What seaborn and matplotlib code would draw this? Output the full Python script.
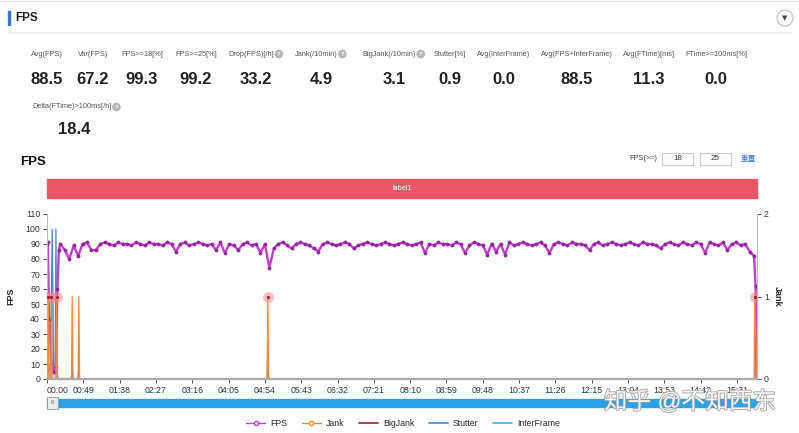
import numpy as np
import matplotlib
import matplotlib.pyplot as plt
import seaborn as sns
from matplotlib.lines import Line2D
from matplotlib.patches import Rectangle, Circle
import matplotlib.patheffects as pe

sns.set_theme(style="white")
plt.rcParams["font.family"] = ["Liberation Sans", "Noto Sans CJK SC", "DejaVu Sans"]
plt.rcParams["axes.unicode_minus"] = False

# summary numbers
stat_labels = ["Avg(FPS)", "Var(FPS)", "FPS>=18[%]", "FPS>=25[%]", "Drop(FPS)[/h]",
               "Jank(/10min)", "BigJank(/10min)", "Stutter[%]", "Avg(InterFrame)",
               "Avg(FPS+InterFrame)", "Avg(FTime)[ms]", "FTime>=100ms[%]"]
stat_values = ["88.5", "67.2", "99.3", "99.2", "33.2", "4.9", "3.1", "0.9", "0.0",
               "88.5", "11.3", "0.0"]
stat_help = [False, False, False, False, True, True, True, False, False, False, False, False]
extra_label = "Delta(FTime)>100ms[/h]"
extra_value = "18.4"

# FPS series (seconds)
fps_start_time = [0, 1, 3, 6, 9, 12, 14, 16]
fps_start = [90, 91, 40, 10, 5, 8, 60, 86]
fps_main = [
    90, 86, 80, 89, 82, 90, 91, 86, 86, 90,
    91, 90, 89, 91, 90, 90, 89, 91, 90, 89,
    91, 90, 90, 89, 91, 90, 85, 90, 91, 89,
    90, 91, 90, 89, 90, 86, 91, 84, 90, 89,
    86, 90, 91, 89, 90, 84, 90, 74, 87, 90,
    91, 89, 87, 90, 91, 90, 89, 87, 85, 90,
    91, 90, 89, 90, 91, 90, 87, 89, 90, 91,
    90, 89, 90, 91, 90, 89, 90, 91, 90, 89,
    90, 91, 84, 90, 89, 91, 90, 90, 89, 91,
    90, 84, 89, 91, 90, 89, 83, 90, 85, 90,
    83, 91, 89, 90, 91, 90, 89, 90, 91, 89,
    84, 90, 91, 90, 89, 91, 90, 90, 89, 86,
    90, 91, 89, 90, 91, 90, 89, 90, 91, 90,
    89, 91, 90, 90, 89, 87, 90, 91, 90, 89,
    91, 90, 89, 91, 90, 84, 91, 90, 89, 91,
    86, 90, 91, 89, 90, 85, 82,
]
fps_end_time = [956, 958]
fps_end = [62, 0]

jank_time = [0, 1, 2, 3, 5, 6, 7, 12, 13, 14, 33, 34, 35, 42, 43, 44,
             297, 298, 299, 954, 955, 958]
jank = [0, 0, 1, 0, 0, 1, 0, 0, 1, 0, 0, 1, 0, 0, 1, 0, 0, 1, 0, 0, 1, 0]

bigjank_time = [2, 6, 13, 298, 955]
bigjank = [1, 1, 1, 1, 1]

stutter_time = [0, 1, 3, 5, 7, 9, 11, 12, 13, 14, 15, 33, 34, 35, 42, 43, 44,
                297, 298, 299, 955, 957, 958]
stutter = [0, 8, 5, 10, 100, 6, 8, 100, 22, 4, 0, 0, 10, 0, 0, 10, 0,
           0, 25, 0, 0, 35, 35]

interframe_time = [0, 958]
interframe = [0, 0]

x_end = 958
tick_secs = list(range(0, x_end, 49))

c_fps = "#c23ec9"
c_fps_mk = "#93279f"
c_jank = "#f0883a"
c_big = "#a3202c"
c_stutter = "#4a84d6"
c_inter = "#36b4e6"

W, H = 799, 433
fig = plt.figure(figsize=(W / 100, H / 100), dpi=100)
renderer = fig.canvas.get_renderer()

# page layer in pixel coordinates
bg = fig.add_axes([0, 0, 1, 1], zorder=0)
bg.set_xlim(0, W)
bg.set_ylim(H, 0)
bg.axis("off")


def help_icon(x, y):
    bg.add_patch(Circle((x, y), 3.6, color="#b5b5b5"))
    bg.text(x, y + 0.3, "?", fontsize=4.2, color="white", ha="center", va="center",
            fontweight="bold")


def right_edge(t):
    bb = t.get_window_extent(renderer)
    return bg.transData.inverted().transform((bb.x1, bb.y0))[0]


bg.plot([0, W], [1, 1], color="#e6e6e6", lw=1)
bg.add_patch(Rectangle((8, 11), 2, 14, color="#3a74d8"))
bg.text(15, 18, "FPS", fontsize=8.5, fontweight="bold", va="center", color="#222")
bg.plot([8, 792], [33, 33], color="#eeeeee", lw=1.2)
bg.add_patch(Circle((785, 18), 8, fill=False, ec="#bbbbbb", lw=0.8))
bg.text(785, 18.5, "▼", fontsize=5, ha="center", va="center", color="#444",
        family=["DejaVu Sans"])

col_x = [47, 93, 142, 196, 256, 321, 394, 450, 504, 577, 649, 716]
for x, lab, val, hq in zip(col_x, stat_labels, stat_values, stat_help):
    off = 5 if hq else 0
    t = bg.text(x - off, 54, lab, fontsize=5.3, ha="center", va="center", color="#555")
    if hq:
        help_icon(right_edge(t) + 5, 54)
    bg.text(x, 79, val, fontsize=12, fontweight="bold", ha="center", va="center",
            color="#222")

t = bg.text(32, 107, extra_label, fontsize=5.3, ha="left", va="center", color="#555")
help_icon(right_edge(t) + 5, 107)
bg.text(74, 130, extra_value, fontsize=12, fontweight="bold", ha="center",
        va="center", color="#222")

bg.text(20, 162, "FPS", fontsize=9.5, fontweight="bold", va="center", color="#111")
bg.text(643, 159, "FPS(>=)", fontsize=5.3, ha="center", va="center", color="#444")
for bx, txt in [(662, "18"), (700, "25")]:
    bg.add_patch(Rectangle((bx, 153), 31, 12, fill=False, ec="#cccccc", lw=0.8))
    bg.text(bx + 15.5, 159, txt, fontsize=5.8, ha="center", va="center", color="#333")
bg.text(748, 159, "重置", fontsize=5.5, ha="center", va="center", color="#3a6fd8")

bg.add_patch(Rectangle((47, 179), 710, 19, color="#ec5566"))
bg.text(402, 188.5, "label1", fontsize=5.3, ha="center", va="center", color="white")

# zoom slider under the chart
bg.add_patch(Rectangle((47, 399), 710, 8, color="#2aa2ea"))
bg.add_patch(Rectangle((47, 397), 11, 12, fc="#ececec", ec="#999999", lw=0.6))
bg.text(52.5, 403, "III", fontsize=3.5, ha="center", va="center", color="#666")

# chart
ax = fig.add_axes([47 / W, 1 - 379 / H, 710 / W, 165 / H], zorder=2)
ax.patch.set_alpha(0)

fps_t = fps_start_time + list(np.arange(18, 18 + 6 * len(fps_main), 6)) + fps_end_time
fps_v = fps_start + fps_main + fps_end

ax.fill_between(stutter_time, stutter, color=c_stutter, alpha=0.35, lw=0)
sns.lineplot(x=stutter_time, y=stutter, ax=ax, color=c_stutter, lw=0.9)
sns.lineplot(x=interframe_time, y=interframe, ax=ax, color=c_inter, lw=1.0)
sns.lineplot(x=fps_t, y=fps_v, ax=ax, color=c_fps, lw=1.7, marker="o",
             markersize=2.0, markerfacecolor=c_fps_mk, markeredgecolor=c_fps_mk)

ax.set_xlim(0, x_end)
ax.set_ylim(0, 110)
ax.set_yticks(range(0, 111, 10))
ax.set_xticks(tick_secs)
ax.set_xticklabels([f"{s // 60:02d}:{s % 60:02d}" for s in tick_secs])
ax.get_xticklabels()[0].set_horizontalalignment("left")
ax.tick_params(axis="both", labelsize=6.3, colors="#333", length=3, width=0.6,
               direction="out", pad=2, left=True, bottom=True)
ax.set_ylabel("FPS", fontsize=6.5, fontweight="bold", labelpad=7)
ax.set_xlabel("")
for s in ["top", "right"]:
    ax.spines[s].set_visible(False)
ax.spines["left"].set_color("#bbbbbb")
ax.spines["left"].set_linewidth(0.8)
ax.spines["bottom"].set_color("#aaaaaa")
ax.spines["bottom"].set_linewidth(1.6)

ax2 = ax.twinx()
sns.lineplot(x=jank_time, y=jank, ax=ax2, color=c_jank, lw=0.9)
ax2.scatter(bigjank_time, bigjank, s=60, color="#f4868a", alpha=0.55, lw=0, zorder=4)
ax2.scatter(bigjank_time, bigjank, s=5, color=c_big, lw=0, zorder=5)
ax2.set_ylim(0, 2)
ax2.set_yticks([0, 1, 2])
ax2.tick_params(axis="y", labelsize=6.3, colors="#333", length=3, width=0.6,
                direction="out", pad=2, right=True)
ax2.set_ylabel("Jank", fontsize=6.5, fontweight="bold", rotation=270, labelpad=9)
for s in ["top", "left"]:
    ax2.spines[s].set_visible(False)
ax2.spines["right"].set_color("#bbbbbb")
ax2.spines["right"].set_linewidth(0.8)
ax2.spines["bottom"].set_color("#aaaaaa")
ax2.spines["bottom"].set_linewidth(1.6)

handles = [
    Line2D([], [], color=c_fps, lw=1, marker="o", markersize=3, markerfacecolor="white"),
    Line2D([], [], color=c_jank, lw=1, marker="o", markersize=3, markerfacecolor="white"),
    Line2D([], [], color=c_big, lw=1.2),
    Line2D([], [], color=c_stutter, lw=1.2),
    Line2D([], [], color=c_inter, lw=1.2),
]
fig.legend(handles, ["FPS", "Jank", "BigJank", "Stutter", "InterFrame"],
           loc="center", bbox_to_anchor=(403 / W, 1 - 424 / H), ncol=5,
           frameon=False, fontsize=6.3, handlelength=2.2, columnspacing=1.6,
           handletextpad=0.6)

fig.text(690 / W, 1 - 402 / H, "知乎 @不知西东", fontsize=17, ha="center",
         va="center", color="white", alpha=0.9,
         path_effects=[pe.withStroke(linewidth=1.2, foreground="#9a9a9a")],
         zorder=10)

fig.savefig("out.png", dpi=100)
